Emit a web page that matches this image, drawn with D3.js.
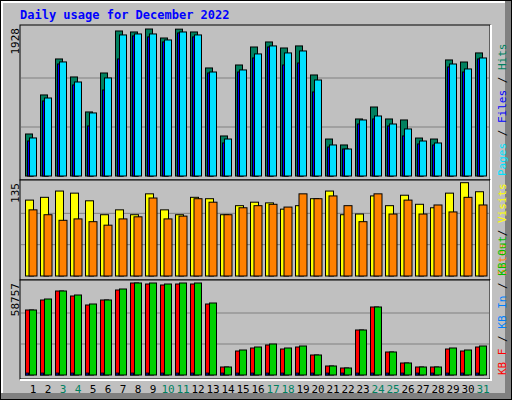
<!DOCTYPE html>
<html><head><meta charset="utf-8">
<script src="https://cdn.jsdelivr.net/npm/d3@7"></script>
<style>body{margin:0;background:#fff}text{font-family:"DejaVu Sans Mono",monospace}</style>
</head><body>
<script>
var days = d3.range(1, 32);
var weekend = [3, 4, 10, 11, 17, 18, 24, 25, 31];
var hits = [551,1063,1535,1299,840,1351,1902,1889,1928,1810,1926,1889,1417,525,1456,1692,1758,1679,1706,1325,485,407,748,905,748,735,498,485,1522,1495,1614];
var files = [459,984,1469,1194,656,1128,1535,1837,1824,1758,1876,1824,1351,433,1364,1548,1692,1456,1482,1102,380,354,682,748,656,525,420,407,1430,1364,1535];
var pages = [499,1023,1496,1233,827,1286,1850,1863,1863,1784,1889,1850,1364,485,1391,1601,1706,1614,1640,1259,407,354,735,787,682,617,459,433,1469,1404,1548];
var visits = [109,113,122,119,108,88,95,88,118,95,88,113,111,88,101,106,105,96,101,111,122,88,89,115,101,116,103,98,119,134,121];
var sites = [95,88,80,82,78,73,82,85,112,82,86,111,106,88,98,101,103,99,118,111,115,101,78,118,89,109,89,102,92,113,102];
var kbF = [41067,47385,53071,49912,44226,47385,53703,58126,57494,56862,57494,57494,44858,5054,15163,17059,18954,16427,17690,12636,5686,4423,28431,42962,14531,7582,5054,5054,16427,15163,17690];
var kbOut = [41067,48017,53071,50544,44858,47385,54335,58126,58126,57494,58126,58126,45490,5054,15795,17690,19586,17059,18322,12636,5686,4423,28431,42962,14531,7582,5054,5054,17059,15795,18322];
var kbIn = days.map(function(){ return 1200; });

var svg = d3.select("body").append("svg").attr("width", 512).attr("height", 400);
svg.append("rect").attr("width", 512).attr("height", 400).attr("fill", "#000");
svg.append("rect").attr("x", 1).attr("y", 1).attr("width", 510).attr("height", 398).attr("fill", "#808080");
svg.append("rect").attr("x", 1).attr("y", 1).attr("width", 504).attr("height", 392).attr("fill", "#fff");
svg.append("rect").attr("x", 3).attr("y", 3).attr("width", 502).attr("height", 390).attr("fill", "#c0c0c0");

svg.append("text").attr("x", 20).attr("y", 19).attr("fill", "#0000ff")
	.style("font-size", "12px").style("font-weight", "bold").text("Daily usage for December 2022");

var x = d3.scaleBand().domain(days).range([22, 487]).padding(0);

function panel(top, bottom, max, h, series, label, legend) {
	svg.append("rect").attr("x", 20).attr("y", top).attr("width", 470).attr("height", bottom - top)
		.attr("fill", "#c0c0c0").attr("stroke", "#000");
	svg.append("path").attr("d", "M20," + (bottom + 1) + "H491V" + top).attr("stroke", "#fff").attr("fill", "none").attr("stroke-width", 2);
	var base = bottom - 4;
	var y = d3.scaleLinear().domain([0, max]).range([base, base - h]);
	[1 / 3, 2 / 3].forEach(function(f) {
		svg.append("line").attr("x1", 21).attr("x2", 489).attr("y1", y(max * f)).attr("y2", y(max * f)).attr("stroke", "#808080");
	});
	series.forEach(function(s) {
		svg.append("g").selectAll("rect").data(s.values).join("rect")
			.attr("x", function(d, i) { return x(days[i]) + s.dx; })
			.attr("y", function(d) { return y(d); })
			.attr("width", s.w)
			.attr("height", function(d) { return base - y(d); })
			.attr("fill", s.color).attr("stroke", "#000");
	});
	svg.append("text").attr("transform", "translate(19," + (top + 3) + ") rotate(-90)")
		.attr("text-anchor", "end").style("font-size", "11px").attr("fill", "#000").text(label);
	var t = svg.append("text").attr("transform", "translate(506," + (bottom - 4) + ") rotate(-90)")
		.style("font-size", "11px");
	legend.forEach(function(l, i) {
		if (i) t.append("tspan").attr("fill", "#000").text(" / ");
		t.append("tspan").attr("fill", l[1]).text(l[0]);
	});
}

panel(25, 180, 1928, 147, [
	{ values: hits, color: "#00805f", dx: 3.5, w: 7 },
	{ values: files, color: "#0000ff", dx: 5.5, w: 6 },
	{ values: pages, color: "#00e0ff", dx: 7.5, w: 7 }
], "1928", [["Pages", "#00e0ff"], ["Files", "#0000ff"], ["Hits", "#00805f"]]);

panel(180, 280, 135, 94, [
	{ values: visits, color: "#ffff00", dx: 3.5, w: 8 },
	{ values: sites, color: "#ff8000", dx: 7, w: 8 }
], "135", [["Sites", "#ff8000"], ["Visits", "#ffff00"]]);

panel(280, 379, 58757, 93, [
	{ values: kbF, color: "#ff0000", dx: 3.5, w: 8 },
	{ values: kbIn, color: "#0000ff", dx: 3.5, w: 3 },
	{ values: kbOut, color: "#00d000", dx: 7.5, w: 7 }
], "58757", [["KB F", "#ff0000"], ["KB In", "#0080ff"], ["KB Out", "#00c000"]]);

svg.append("g").selectAll("text").data(days).join("text")
	.attr("x", function(d) { return x(d) + 11; })
	.attr("y", 393).attr("text-anchor", "middle").style("font-size", "11px")
	.attr("fill", function(d) { return weekend.indexOf(d) >= 0 ? "#00805f" : "#000"; })
	.text(function(d) { return d; });
</script>
</body></html>
